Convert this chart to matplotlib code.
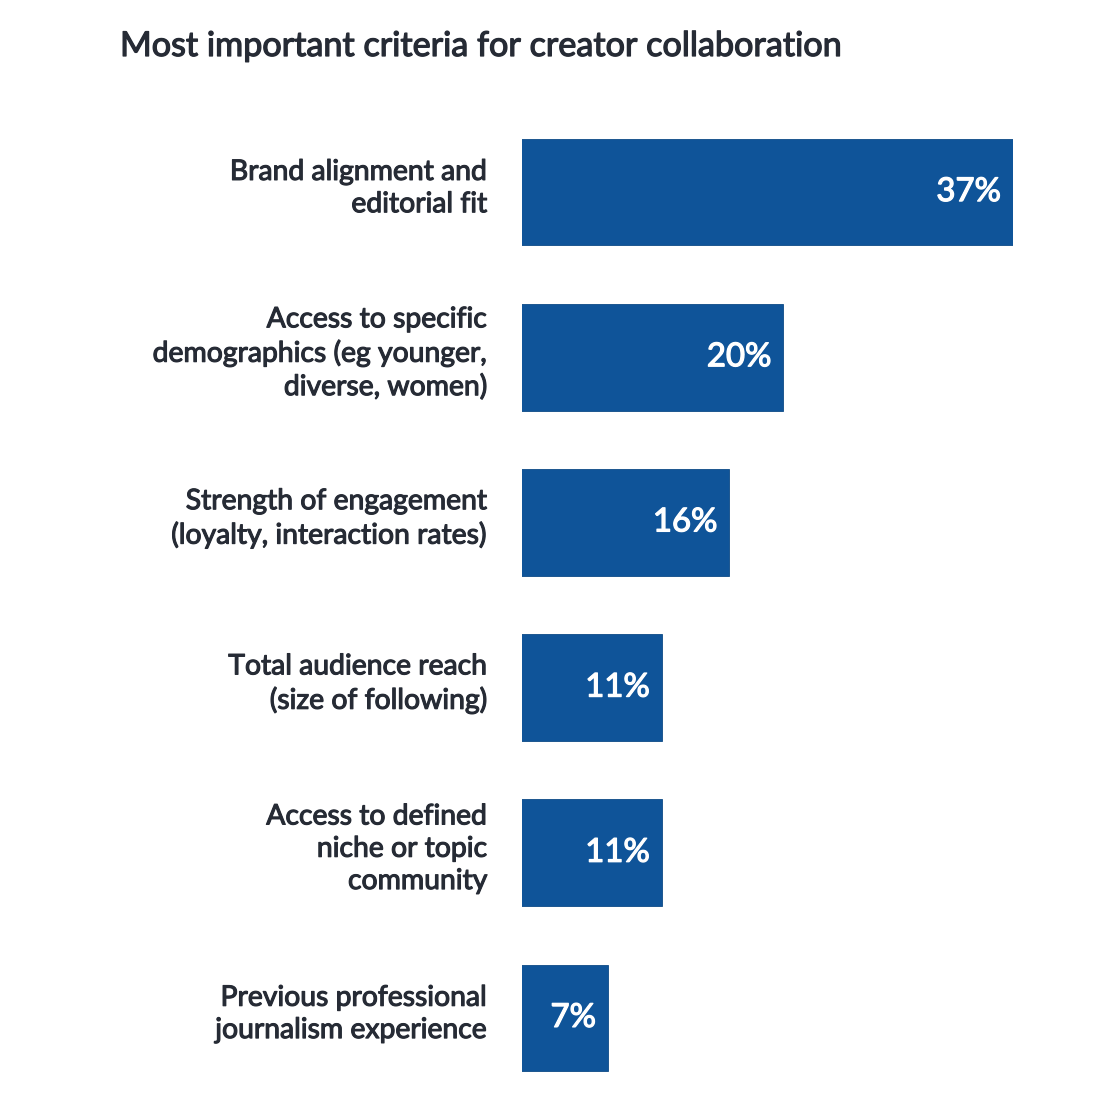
import matplotlib
matplotlib.use("Agg")
import matplotlib.pyplot as plt
import matplotlib.patheffects as pe

categories = [
    "Brand alignment and\neditorial fit",
    "Access to specific\ndemographics (eg younger,\ndiverse, women)",
    "Strength of engagement\n(loyalty, interaction rates)",
    "Total audience reach\n(size of following)",
    "Access to defined\nniche or topic\ncommunity",
    "Previous professional\njournalism experience",
]
values = [37, 20, 16, 11, 11, 7]
value_labels = ["37%", "20%", "16%", "11%", "11%", "7%"]
title = "Most important criteria for creator collaboration"

BAR = "#0f5499"
TEXT = "#262b35"
plt.rcParams['font.family'] = ['Lato', 'DejaVu Sans']

W = H = 1102
fig = plt.figure(figsize=(W / 100, H / 100), dpi=100)
fig.patch.set_facecolor("white")

left, right = 522, 1013
top, bottom = 109.5, 1100.5
ax = fig.add_axes([left / W, 1 - bottom / H, (right - left) / W, (bottom - top) / H])

y = list(range(len(categories)))
ax.barh(y, values, height=0.645, color=BAR, edgecolor="#0d4a86", linewidth=0.6, clip_on=True)
ax.set_xlim(0.63, 37)
ax.set_ylim(len(categories) - 0.5, -0.5)
ax.axis("off")

def bolden(color, w):
    return [pe.withStroke(linewidth=w, foreground=color)]

for yi, v, lab, cat in zip(y, values, value_labels, categories):
    ax.annotate(lab, xy=(v, yi), xytext=(-12, 0), textcoords="offset pixels",
                ha="right", va="center", color="white", fontsize=23.7,
                path_effects=bolden("white", 0.9))
    ax.annotate(cat, xy=(0.63, yi), xycoords="data", xytext=(-34, 4), textcoords="offset pixels",
                ha="right", va="center", color=TEXT, fontsize=20.4,
                multialignment="right", linespacing=1.3,
                path_effects=bolden(TEXT, 0.8))

fig.text(120 / W, 1 - 56 / H, title, ha="left", va="baseline", color=TEXT,
         fontsize=24.6, path_effects=bolden(TEXT, 0.9))

fig.savefig("out.png", dpi=100, facecolor="white")
